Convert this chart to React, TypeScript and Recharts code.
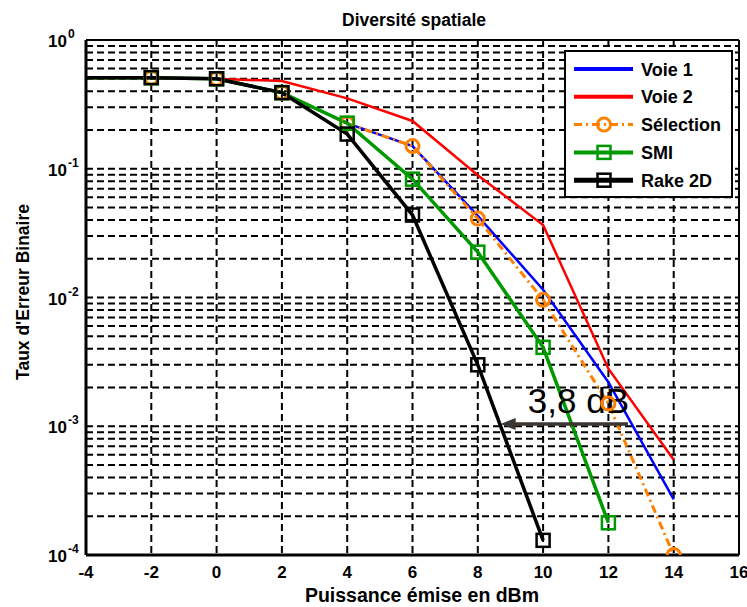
import React from 'react';
import { LineChart, Line, XAxis, YAxis, CartesianGrid, ReferenceLine } from 'recharts';

const dbm = [-4, -2, 0, 2, 4, 6, 8, 10, 12, 14];
const voie1 = [0.51, 0.51, 0.5, 0.39, 0.225, 0.15, 0.043, 0.0115, 0.0022, 0.00027];
const voie2 = [0.51, 0.51, 0.5, 0.48, 0.352, 0.235, 0.089, 0.0366, 0.0028, 0.00055];
const selection = [0.51, 0.51, 0.5, 0.39, 0.225, 0.15, 0.041, 0.0096, 0.0015, 0.0001];
const smi = [0.51, 0.51, 0.5, 0.39, 0.226, 0.083, 0.0225, 0.0041, 0.000178];
const rake = [0.51, 0.51, 0.5, 0.39, 0.186, 0.0437, 0.003, 0.00013];

const xTicks = [-4, -2, 0, 2, 4, 6, 8, 10, 12, 14, 16];
const yTicks = [1e-4, 1e-3, 1e-2, 1e-1, 1];
const yExponents = ['-4', '-3', '-2', '-1', '0'];
const minorMantissas = [2, 3, 4, 5, 6, 7, 8, 9];
const annotationText = '3,8 dB';
const annotation = { from: 12.6, to: 8.7, ber: 0.00104 };

const yGrid = yTicks.slice(0, 4).flatMap((d) => [d, ...minorMantissas.map((m) => m * d)]).concat([1]);

const rows = dbm.map((x, i) => ({
  x,
  voie1: voie1[i],
  voie2: voie2[i],
  selection: selection[i],
  smi: smi[i],
  rake: rake[i],
}));

type Series = { key: string; name: string; color: string; width: number; legendWidth: number; dash?: string; marker?: 'circle' | 'square' };
const series: Series[] = [
  { key: 'voie1', name: 'Voie 1', color: '#0000ff', width: 2.5, legendWidth: 4 },
  { key: 'voie2', name: 'Voie 2', color: '#ff0000', width: 2.5, legendWidth: 4 },
  { key: 'selection', name: 'Sélection', color: '#ff8000', width: 3, legendWidth: 3, dash: '8 4 2 4', marker: 'circle' },
  { key: 'smi', name: 'SMI', color: '#009900', width: 3.5, legendWidth: 4, marker: 'square' },
  { key: 'rake', name: 'Rake 2D', color: '#000000', width: 3.5, legendWidth: 5, marker: 'square' },
];

const FONT = '"Liberation Sans", Arial, sans-serif';

function Marker({ kind, cx, cy, color }: { kind?: string; cx: number; cy: number; color: string }) {
  if (kind === 'circle') return <circle cx={cx} cy={cy} r={6.5} fill="none" stroke={color} strokeWidth={3} />;
  if (kind === 'square') return <rect x={cx - 6.5} y={cy - 6.5} width={13} height={13} fill="none" stroke={color} strokeWidth={2.5} />;
  return null;
}

function makeDot(s: Series) {
  return (p: any) => {
    const k = `${s.key}-${p.index}`;
    if (!s.marker || p.payload?.x === -4 || p.cy == null || isNaN(p.cy)) return <g key={k} />;
    return <g key={k}><Marker kind={s.marker} cx={p.cx} cy={p.cy} color={s.color} /></g>;
  };
}

const XTick = (p: any) => (
  <text x={p.x} y={578} textAnchor="middle" fontFamily={FONT} fontWeight="bold" fontSize={17} fill="#000">
    {p.payload.value}
  </text>
);

const YTick = (p: any) => {
  const idx = yTicks.indexOf(p.payload.value);
  return (
    <text x={67} y={p.y + 7} textAnchor="end" fontFamily={FONT} fontWeight="bold" fontSize={17} fill="#000">
      10
      <tspan x={68} dy={-9} textAnchor="start" fontSize={12}>{yExponents[idx]}</tspan>
    </text>
  );
};

const Arrow = (p: any) => {
  const { x1, y1, x2 } = p;
  if (x1 == null) return <g />;
  const tip = Math.min(x1, x2);
  const tail = Math.max(x1, x2);
  return (
    <g>
      <line x1={tail} y1={y1} x2={tip + 12} y2={y1} stroke="#3b3632" strokeWidth={3.5} />
      <polygon points={`${tip},${y1} ${tip + 15},${y1 - 6} ${tip + 15},${y1 + 6}`} fill="#3b3632" />
      <text x={tail + 1} y={y1 - 11} textAnchor="end" fontFamily={FONT} fontSize={35} fill="#000">{annotationText}</text>
    </g>
  );
};

function LegendBox() {
  return (
    <div style={{ position: 'absolute', left: 564, top: 50, width: 169, height: 148, background: '#fff', border: '2px solid #000', boxSizing: 'border-box' }}>
      <svg width={165} height={144}>
        {series.map((s, i) => {
          const y = 17 + i * 27.8;
          return (
            <g key={s.key}>
              <line x1={8} y1={y} x2={67} y2={y} stroke={s.color} strokeWidth={s.legendWidth} strokeDasharray={s.dash} />
              <Marker kind={s.marker} cx={38} cy={y} color={s.color} />
              <text x={75} y={y + 6.5} fontFamily={FONT} fontWeight="bold" fontSize={18} fill="#000">{s.name}</text>
            </g>
          );
        })}
      </svg>
    </div>
  );
}

export default function App() {
  return (
    <div style={{ position: 'absolute', left: 0, top: 0, width: 747, height: 607, background: '#fff' }}>
      <div style={{ position: 'absolute', left: 0, top: 11, width: 828, textAlign: 'center', fontFamily: FONT, fontWeight: 'bold', fontSize: 17.5, color: '#000', lineHeight: '18px' }}>
        Diversité spatiale
      </div>
      <LineChart width={747} height={607} data={rows} margin={{ top: 40, right: 8, bottom: 0, left: 0 }}>
        <CartesianGrid
          stroke="#000"
          strokeWidth={2}
          strokeDasharray="7 4"
          horizontalValues={yGrid}
          verticalValues={xTicks.slice(1, -1)}
        />
        <XAxis
          dataKey="x"
          type="number"
          domain={[-4, 16]}
          ticks={xTicks}
          height={52}
          tickLine={false}
          axisLine={{ stroke: '#000', strokeWidth: 3 }}
          tick={<XTick />}
          interval={0}
          label={{
            content: () => (
              <text x={422} y={602} textAnchor="middle" fontFamily={FONT} fontWeight="bold" fontSize={19.5} fill="#000">
                Puissance émise en dBm
              </text>
            ),
          }}
        />
        <YAxis
          type="number"
          scale="log"
          domain={[1e-4, 1]}
          ticks={yTicks}
          allowDataOverflow
          width={86}
          tickLine={false}
          axisLine={{ stroke: '#000', strokeWidth: 3 }}
          tick={<YTick />}
          interval={0}
          label={{
            content: () => (
              <text x={29} y={292} transform="rotate(-90 29 292)" textAnchor="middle" fontFamily={FONT} fontWeight="bold" fontSize={17.5} fill="#000">
                Taux d'Erreur Binaire
              </text>
            ),
          }}
        />
        <ReferenceLine y={1} stroke="#000" strokeWidth={2} />
        <ReferenceLine x={16} stroke="#000" strokeWidth={2} />
        {series.map((s) => (
          <Line
            key={s.key}
            dataKey={s.key}
            name={s.name}
            stroke={s.color}
            strokeWidth={s.width}
            strokeDasharray={s.dash}
            dot={makeDot(s)}
            activeDot={false}
            isAnimationActive={false}
            type="linear"
          />
        ))}
        <ReferenceLine
          segment={[{ x: annotation.from, y: annotation.ber }, { x: annotation.to, y: annotation.ber }]}
          shape={<Arrow />}
        />
      </LineChart>
      <LegendBox />
    </div>
  );
}
